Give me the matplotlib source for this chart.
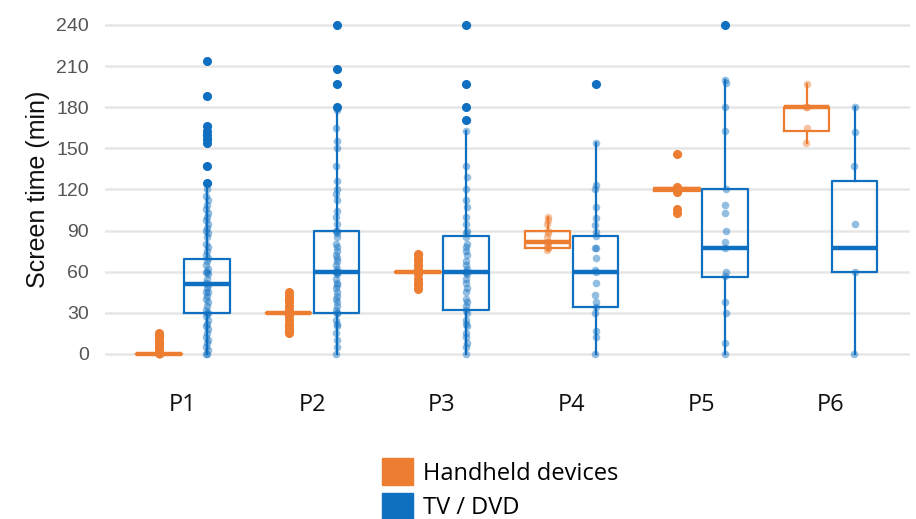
import matplotlib
matplotlib.use("Agg")
import matplotlib.pyplot as plt
from matplotlib.patches import Patch

groups = ["P1", "P2", "P3", "P4", "P5", "P6"]
series = ["Handheld devices", "TV / DVD"]
colors = ["#ED7D31", "#0F6FC0"]

# box statistics per group: q1, median, q3, lower whisker, upper whisker
hand_q1 = [0, 30, 60, 77, 119, 163]
hand_med = [0, 30, 60, 82, 120, 180]
hand_q3 = [0, 30, 60, 90, 121, 180]
hand_lo = [0, 30, 60, 76, 119, 154]
hand_hi = [0, 30, 60, 100, 121, 197]

tv_q1 = [30, 30, 32, 34, 56, 60]
tv_med = [51, 60, 60, 60, 77, 77]
tv_q3 = [69, 90, 86, 86, 120, 126]
tv_lo = [0, 0, 0, 0, 0, 0]
tv_hi = [120, 178, 163, 154, 200, 180]

# individual responses (minutes)
hand_pts = [
    [0, 0, 0, 0, 0, 0, 0, 0, 0, 0, 2, 3, 5, 6, 8, 10, 12, 14, 15],
    [15, 17, 18, 20, 22, 25, 28, 30, 30, 30, 30, 30, 32, 35, 38, 40, 42, 45],
    [47, 50, 52, 55, 58, 60, 60, 60, 60, 60, 62, 65, 68, 70, 73],
    [76, 77, 78, 80, 82, 82, 85, 88, 90, 95, 98, 100],
    [103, 106, 118, 120, 120, 120, 120, 122, 146],
    [154, 165, 180, 180, 197],
]
tv_pts = [
    [0, 0, 3, 5, 8, 10, 12, 15, 18, 20, 22, 25, 28, 30, 30, 32, 35, 38, 40,
     42, 45, 45, 48, 50, 52, 55, 58, 60, 60, 62, 65, 68, 70, 72, 75, 78, 80,
     85, 88, 90, 92, 95, 98, 100, 103, 106, 109, 112, 115, 120, 125, 137,
     154, 157, 160, 163, 166, 188, 214],
    [0, 5, 10, 15, 20, 22, 25, 30, 30, 32, 35, 38, 40, 42, 45, 48, 50, 52,
     55, 58, 60, 60, 60, 62, 65, 68, 70, 72, 75, 78, 80, 85, 88, 90, 90, 95,
     100, 104, 112, 117, 120, 126, 137, 150, 155, 165, 178, 180, 197, 208,
     240],
    [0, 5, 8, 12, 15, 20, 22, 25, 30, 32, 35, 38, 40, 45, 48, 52, 55, 58, 60,
     60, 62, 65, 68, 72, 75, 78, 80, 85, 88, 90, 95, 100, 107, 112, 120, 129,
     137, 163, 171, 180, 197, 240],
    [0, 12, 17, 30, 34, 38, 43, 52, 60, 61, 70, 77, 77, 86, 89, 94, 99, 107,
     120, 123, 154, 197],
    [0, 8, 30, 38, 57, 60, 77, 82, 90, 103, 109, 120, 163, 180, 198, 200,
     240],
    [0, 60, 95, 137, 162, 180],
]

x = list(range(len(groups)))
offset = 0.185
width = 0.35

plt.rcParams["font.family"] = ["Liberation Sans", "DejaVu Sans"]
fig = plt.figure(figsize=(9.16, 5.19), dpi=100)
ax = fig.add_axes([0.115, 0.297, 0.878, 0.676])

allstats = [
    (hand_q1, hand_med, hand_q3, hand_lo, hand_hi, hand_pts, -offset, colors[0]),
    (tv_q1, tv_med, tv_q3, tv_lo, tv_hi, tv_pts, offset, colors[1]),
]
for q1, med, q3, lo, hi, pts, off, col in allstats:
    stats = []
    for i in x:
        fl = [v for v in pts[i] if v > hi[i] or v < lo[i]]
        stats.append(dict(q1=q1[i], med=med[i], q3=q3[i], whislo=lo[i],
                          whishi=hi[i], fliers=fl))
    ax.bxp(stats, positions=[i + off for i in x], widths=width,
           showcaps=False, showfliers=True,
           boxprops=dict(color=col, lw=1.6),
           whiskerprops=dict(color=col, lw=1.6),
           medianprops=dict(color=col, lw=3.2),
           flierprops=dict(marker="o", markerfacecolor=col, markeredgecolor=col,
                           markersize=5.5, alpha=1.0),
           zorder=3)
    for i in x:
        n = len(pts[i])
        jit = [((k % 3) - 1) * 0.004 for k in range(n)]
        ax.scatter([i + off + j for j in jit], pts[i], s=30, color=col,
                   alpha=0.45, lw=0, zorder=4)

ax.set_xlim(-0.6, 5.61)
ax.set_ylim(-8, 248)
ax.set_yticks(range(0, 241, 30))
ax.set_xticks(x)
ax.set_xticklabels(groups, fontsize=17, color="#111111", family=["Open Sans", "DejaVu Sans"])
ax.tick_params(axis="y", labelsize=14, labelcolor="#555555", length=0, pad=12)
ax.tick_params(axis="x", length=0, pad=20)
ax.grid(axis="y", color="#E6E6E6", lw=1.8, zorder=0)
ax.set_axisbelow(True)
for s in ax.spines.values():
    s.set_visible(False)
ax.set_ylabel("Screen time (min)", fontsize=18, color="#111111", labelpad=4)

handles = [Patch(color=c) for c in colors]
fig.legend(handles, series, loc="upper left", bbox_to_anchor=(0.404, 0.14),
           frameon=False, handlelength=1.3, handleheight=1.4,
           handletextpad=0.45, labelspacing=0.3, borderpad=0,
           prop={"family": ["Open Sans", "DejaVu Sans"], "size": 17})

fig.savefig("out.png", dpi=100)
